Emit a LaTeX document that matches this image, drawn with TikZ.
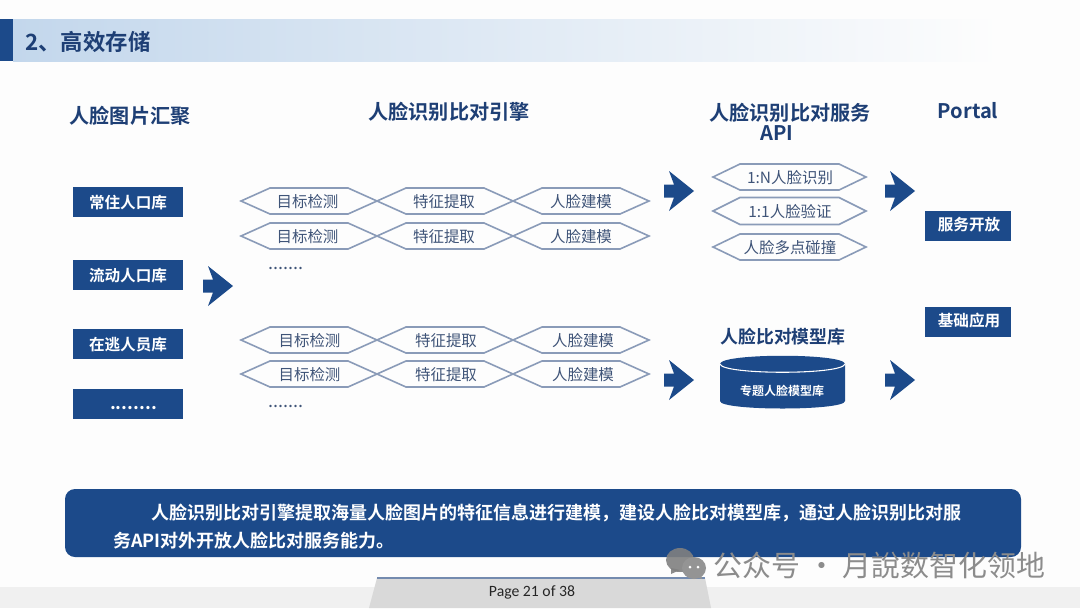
\documentclass[tikz,border=0pt]{standalone}
\usepackage{fontspec}
\setmainfont{Noto Sans CJK SC}
\newfontfamily\cjkb{Noto Sans CJK SC Bold}
\newfontfamily\pagef{Carlito}
\usetikzlibrary{shapes.geometric}
\definecolor{navy}{HTML}{1C4A8A}
\definecolor{titleblue}{HTML}{1E3F75}
\definecolor{hexline}{HTML}{8A9BB8}
\definecolor{hextext}{HTML}{3F5478}
\definecolor{headlight}{HTML}{C3D7EC}
\definecolor{pagegray}{HTML}{D9D9D9}
\definecolor{paper}{HTML}{FDFDFD}
\newcommand{\pxfont}[2]{\fontsize{#1}{#2}\selectfont}
\tikzset{
  x=0.75pt,y=-0.75pt,
  sechead/.style={font=\cjkb\pxfont{15.1}{17},text=titleblue,inner sep=0pt,align=center},
  navybox/.style={fill=navy,draw=none,minimum height=22.5pt,inner sep=0pt},
  navytext/.style={inner sep=0pt,text=white,font=\cjkb\pxfont{11.7}{14}},
  hexlabel/.style={font=\pxfont{11.6}{14},text=hextext,inner sep=0pt},
  hexoutline/.style={draw=hexline,line width=1.2pt,line join=miter},
  bigarrow/.style={fill=navy,draw=none},
  dots/.style={font=\pxfont{13.5}{14},text=hextext,inner sep=0pt,anchor=base},
}
% name, left x, right x, cy, half height, text x, text, slant
\newcommand{\hexn}[8]{%
  \draw[hexoutline] (#2,#4) -- (#2+#8,#4-#5) -- (#3-#8,#4-#5) -- (#3,#4) -- (#3-#8,#4+#5) -- (#2+#8,#4+#5) -- cycle;
  \node[hexlabel] (#1) at (#6,#4+1) {#7};
}
% arrow at left x, cy
\newcommand{\fatarrow}[2]{%
  \fill[bigarrow] (#1,#2-6.5) -- (#1+10,#2-6.5) -- (#1+5,#2-20) -- (#1+30,#2) -- (#1+5,#2+20) -- (#1+10,#2+6.5) -- (#1,#2+6.5) -- cycle;
}
\begin{document}
\begin{tikzpicture}
\useasboundingbox (0,0) rectangle (1080,608);
\fill[paper] (0,0) rectangle (1080,608);
% header
\fill[left color=headlight,right color=paper] (13,19) rectangle (1000,61);
\fill[navy] (0,19) rectangle (13,61);
\node[anchor=west,inner sep=0pt,font=\cjkb\pxfont{16.8}{20},text=titleblue] (head) at (25,42) {2、高效存储};
% column heads
\node[sechead] (h1) at (130,116) {人脸图片汇聚};
\node[sechead] (h2) at (449,112) {人脸识别比对引擎};
\node[sechead] (h3) at (790,113) {人脸识别比对服务};
\node[sechead] (h3b) at (777,133) {API};
\node[sechead] (h4) at (968,111) {Portal};
\node[sechead,font=\cjkb\pxfont{13.4}{17}] (h5) at (783,337) {人脸比对模型库};
% left boxes
\node[navybox,minimum width=82.5pt] (b1) at (127.5,202) {};
\node[navybox,minimum width=82.5pt] (b2) at (127.5,275) {};
\node[navybox,minimum width=82.5pt] (b3) at (127.5,344) {};
\node[navybox,minimum width=82.5pt] (b4) at (127.5,404) {};
\node[navytext] (bt1) at (128,203) {常住人口库};
\node[navytext] (bt2) at (128,276) {流动人口库};
\node[navytext] (bt3) at (128,345) {在逃人员库};
\node[navytext,anchor=base,font=\cjkb\pxfont{13.5}{14}] (bt4) at (133.5,409) {........};
% right boxes
\node[navybox,minimum width=64.5pt] (r1) at (968,225.5) {};
\node[navybox,minimum width=64.5pt] (r2) at (968,321.5) {};
\node[navytext] (rt1) at (969,225) {服务开放};
\node[navytext] (rt2) at (969,321) {基础应用};
% hexes
\hexn{a1}{241}{377}{201}{13}{307.5}{目标检测}{29}
\hexn{a2}{377}{513}{201}{13}{444}{特征提取}{29}
\hexn{a3}{513}{649}{201}{13}{581}{人脸建模}{29}
\hexn{a4}{241}{377}{236}{13}{307.5}{目标检测}{29}
\hexn{a5}{377}{513}{236}{13}{444}{特征提取}{29}
\hexn{a6}{513}{649}{236}{13}{581}{人脸建模}{29}
\hexn{c1}{241}{377}{340}{13}{309.5}{目标检测}{29}
\hexn{c2}{377}{513}{340}{13}{446}{特征提取}{29}
\hexn{c3}{513}{649}{340}{13}{583}{人脸建模}{29}
\hexn{c4}{241}{377}{374}{13}{309.5}{目标检测}{29}
\hexn{c5}{377}{513}{374}{13}{446}{特征提取}{29}
\hexn{c6}{513}{649}{374}{13}{583}{人脸建模}{29}
\node[dots] (d1) at (286,269) {.......};
\node[dots] (d2) at (286,407) {.......};
\hexn{s1}{713}{866}{177}{13}{790}{1:N人脸识别}{27}
\hexn{s2}{713}{866}{211}{13.5}{790}{1:1人脸验证}{27}
\hexn{s3}{713}{866}{247}{13}{790}{人脸多点碰撞}{27}
% arrows
\fatarrow{203}{286}
\fatarrow{664}{191}
\fatarrow{885}{191}
\fatarrow{664}{380}
\fatarrow{885}{380}
% cylinder
\fill[navy] (720,364) -- (720,401) .. controls (720,411) and (845,411) .. (845,401) -- (845,364) .. controls (845,353) and (720,353) .. (720,364) -- cycle;
\draw[white,line width=0.8pt] (720,364) .. controls (722,375) and (843,375) .. (845,364);
\node[inner sep=0pt,text=white,font=\cjkb\pxfont{9}{11}] (cyl) at (782,391) {专题人脸模型库};
% summary
\fill[navy,rounded corners=7.5pt] (65,489) rectangle (1021,557);
\node[anchor=west,inner sep=0pt,text=white,font=\cjkb\pxfont{13.5}{16}] (t1) at (151,513) {人脸识别比对引擎提取海量人脸图片的特征信息进行建模，建设人脸比对模型库，通过人脸识别比对服};
\node[anchor=west,inner sep=0pt,text=white,font=\cjkb\pxfont{13.5}{16}] (t2) at (113,541) {务API对外开放人脸比对服务能力。};
% footer
\fill[black!6] (0,587) rectangle (1080,608);
\fill[pagegray] (369,608) -- (377,578) -- (705,578) -- (711,608) -- cycle;
\draw[color=hexline!80!navy,line width=0.9pt] (377,578) -- (705,578);
\node[inner sep=0pt,text=black!85,font=\pagef\pxfont{11.8}{14}] (page) at (532,592.5) {Page 21 of 38};
% watermark
\fill[black!50,opacity=.9] (680,560) ellipse [x radius=14,y radius=12];
\fill[black!50,opacity=.9] (671,568) -- (671,574) -- (680,570) -- cycle;
\fill[black!42] (694,568) ellipse [x radius=12,y radius=11];
\fill[black!42] (696,577) -- (702,579) -- (701,574) -- cycle;
\fill[white] (690,567) circle (1.5) (698,567) circle (1.5);
\node[anchor=west,inner sep=0pt,text=black!45,font=\pxfont{21.7}{26}] (wm) at (713.5,565) {公众号 · 月說数智化领地};
\end{tikzpicture}
\end{document}
